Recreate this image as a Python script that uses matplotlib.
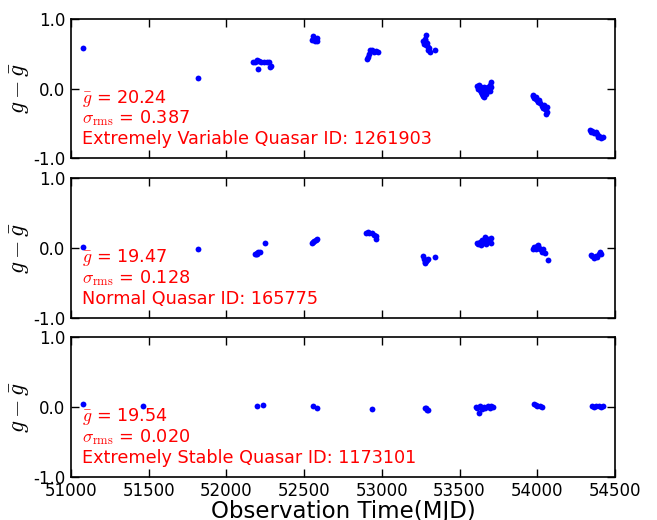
import matplotlib
matplotlib.use("Agg")
import matplotlib.pyplot as plt

plt.rcParams['mathtext.fontset'] = 'cm'
plt.rcParams['axes.unicode_minus'] = False
plt.rcParams['font.size'] = 12

# Extremely variable quasar (ID 1261903)
mjd_var = [51075, 51819,
           52170, 52185, 52195, 52200, 52205, 52210, 52220, 52240, 52260, 52275, 52280, 52285,
           52550, 52555, 52560, 52565, 52570, 52575, 52580, 52585,
           52905, 52910, 52918, 52925, 52935, 52950, 52965, 52975,
           53268, 53272, 53275, 53280, 53285, 53282, 53290, 53295, 53300, 53305, 53310, 53345,
           53615, 53620, 53625, 53630, 53635, 53640, 53645, 53648, 53650, 53655, 53658, 53660,
           53665, 53668, 53672, 53675, 53680, 53685, 53690, 53695, 53700, 53705, 53695, 53655,
           53970, 53975, 53980, 53990, 53995, 54000, 54005, 54010, 54020, 54030, 54040, 54045,
           54050, 54055, 54060, 54065,
           54340, 54345, 54355, 54365, 54375, 54385, 54390, 54400, 54410, 54420]
dg_var = [0.58, 0.15,
          0.39, 0.39, 0.40, 0.41, 0.29, 0.40, 0.38, 0.39, 0.39, 0.39, 0.31, 0.33,
          0.70, 0.72, 0.76, 0.72, 0.68, 0.70, 0.69, 0.73,
          0.43, 0.45, 0.50, 0.55, 0.55, 0.53, 0.54, 0.53,
          0.68, 0.65, 0.72, 0.70, 0.78, 0.63, 0.66, 0.60, 0.56, 0.58, 0.53, 0.55,
          0.04, 0.00, 0.05, -0.02, 0.02, -0.05, -0.08, -0.01, -0.10, 0.03, -0.06, -0.12,
          -0.03, 0.01, -0.07, -0.02, 0.03, -0.04, 0.00, 0.05, 0.02, 0.10, -0.03, -0.09,
          -0.11, -0.09, -0.13, -0.15, -0.12, -0.17, -0.19, -0.16, -0.21, -0.25, -0.28, -0.24,
          -0.30, -0.36, -0.33, -0.27,
          -0.60, -0.62, -0.61, -0.64, -0.63, -0.66, -0.70, -0.68, -0.71, -0.69]

# Normal quasar (ID 165775)
mjd_norm = [51075, 51820,
            52185, 52190, 52195, 52200, 52205, 52215, 52250,
            52550, 52555, 52565, 52575, 52580,
            52900, 52910, 52920, 52935, 52950, 52960, 52965,
            53265, 53270, 53275, 53280, 53285, 53290, 53300, 53340,
            53610, 53620, 53630, 53640, 53650, 53660, 53665, 53670, 53680, 53690, 53700, 53705,
            53645, 53675,
            53970, 53980, 53990, 54000, 54005, 54010, 54020, 54030, 54040, 54050, 54070,
            54345, 54355, 54365, 54375, 54385, 54395, 54405, 54410]
dg_norm = [0.02, -0.02,
           -0.08, -0.09, -0.08, -0.07, -0.06, -0.05, 0.07,
           0.07, 0.08, 0.10, 0.12, 0.13,
           0.22, 0.23, 0.22, 0.22, 0.19, 0.17, 0.13,
           -0.12, -0.16, -0.20, -0.21, -0.18, -0.17, -0.16, -0.13,
           0.07, 0.06, 0.09, 0.05, 0.08, 0.12, 0.16, 0.06, 0.13, 0.10, 0.14, 0.07,
           0.11, 0.09,
           -0.02, 0.01, -0.01, 0.03, 0.04, 0.00, -0.02, -0.05, -0.01, -0.07, -0.17,
           -0.10, -0.12, -0.14, -0.11, -0.13, -0.09, -0.06, -0.08]

# Extremely stable quasar (ID 1173101)
mjd_stab = [51075, 51463,
            52200, 52235,
            52560, 52580,
            52935,
            53275, 53285, 53290, 53300,
            53605, 53615, 53626, 53630, 53645, 53655, 53665, 53680, 53695, 53705, 53715,
            53980, 53990, 54000, 54015, 54030,
            54350, 54365, 54380, 54395, 54410, 54425]
dg_stab = [0.04, 0.01,
           0.02, 0.03,
           0.02, -0.01,
           -0.03,
           -0.02, -0.01, -0.05, -0.04,
           0.00, -0.02, -0.09, 0.01, -0.03, 0.00, -0.02, 0.01, -0.01, 0.02, 0.00,
           0.04, 0.03, 0.02, 0.01, 0.00,
           0.01, 0.00, 0.02, 0.01, 0.00, 0.01]

mean_g = [20.24, 19.47, 19.54]
sigma_rms = [0.387, 0.128, 0.020]
kinds = ["Extremely Variable Quasar", "Normal Quasar", "Extremely Stable Quasar"]
ids = [1261903, 165775, 1173101]

xs = [mjd_var, mjd_norm, mjd_stab]
ys = [dg_var, dg_norm, dg_stab]

fig = plt.figure(figsize=(6.57, 5.2), dpi=100)
panels = [(0.108, 0.696, 0.828, 0.267),
          (0.108, 0.388, 0.828, 0.270),
          (0.108, 0.083, 0.828, 0.269)]

for i, rect in enumerate(panels):
    ax = fig.add_axes(rect)
    ax.plot(xs[i], ys[i], 'o', color='#0000ff', markersize=4.2, markeredgewidth=0)
    ax.set_xlim(51000, 54500)
    ax.set_ylim(-1.0, 1.0)
    ax.set_yticks([-1.0, 0.0, 1.0])
    ax.set_yticklabels(['-1.0', '0.0', '1.0'])
    ax.set_xticks([51000, 51500, 52000, 52500, 53000, 53500, 54000, 54500])
    ax.tick_params(direction='in', length=6, width=1, top=True, right=True,
                   labelsize=12, pad=4)
    for sp in ax.spines.values():
        sp.set_linewidth(1.2)
    if i < 2:
        ax.set_xticklabels([])
    else:
        ax.set_xlabel('Observation Time(MJD)', fontsize=16.5, labelpad=0)
    ax.set_ylabel(r'$g-\bar{g}$', fontsize=17, labelpad=1)

    ax.text(51070, -0.2, r'$\bar{g}$ = %.2f' % mean_g[i], color='red', fontsize=12.7)
    ax.text(51070, -0.5, r'$\sigma_{\mathrm{rms}}$ = %.3f' % sigma_rms[i], color='red', fontsize=12.7)
    ax.text(51070, -0.8, '%s ID: %d' % (kinds[i], ids[i]), color='red', fontsize=12.7)

fig.savefig('out.png', dpi=100)
